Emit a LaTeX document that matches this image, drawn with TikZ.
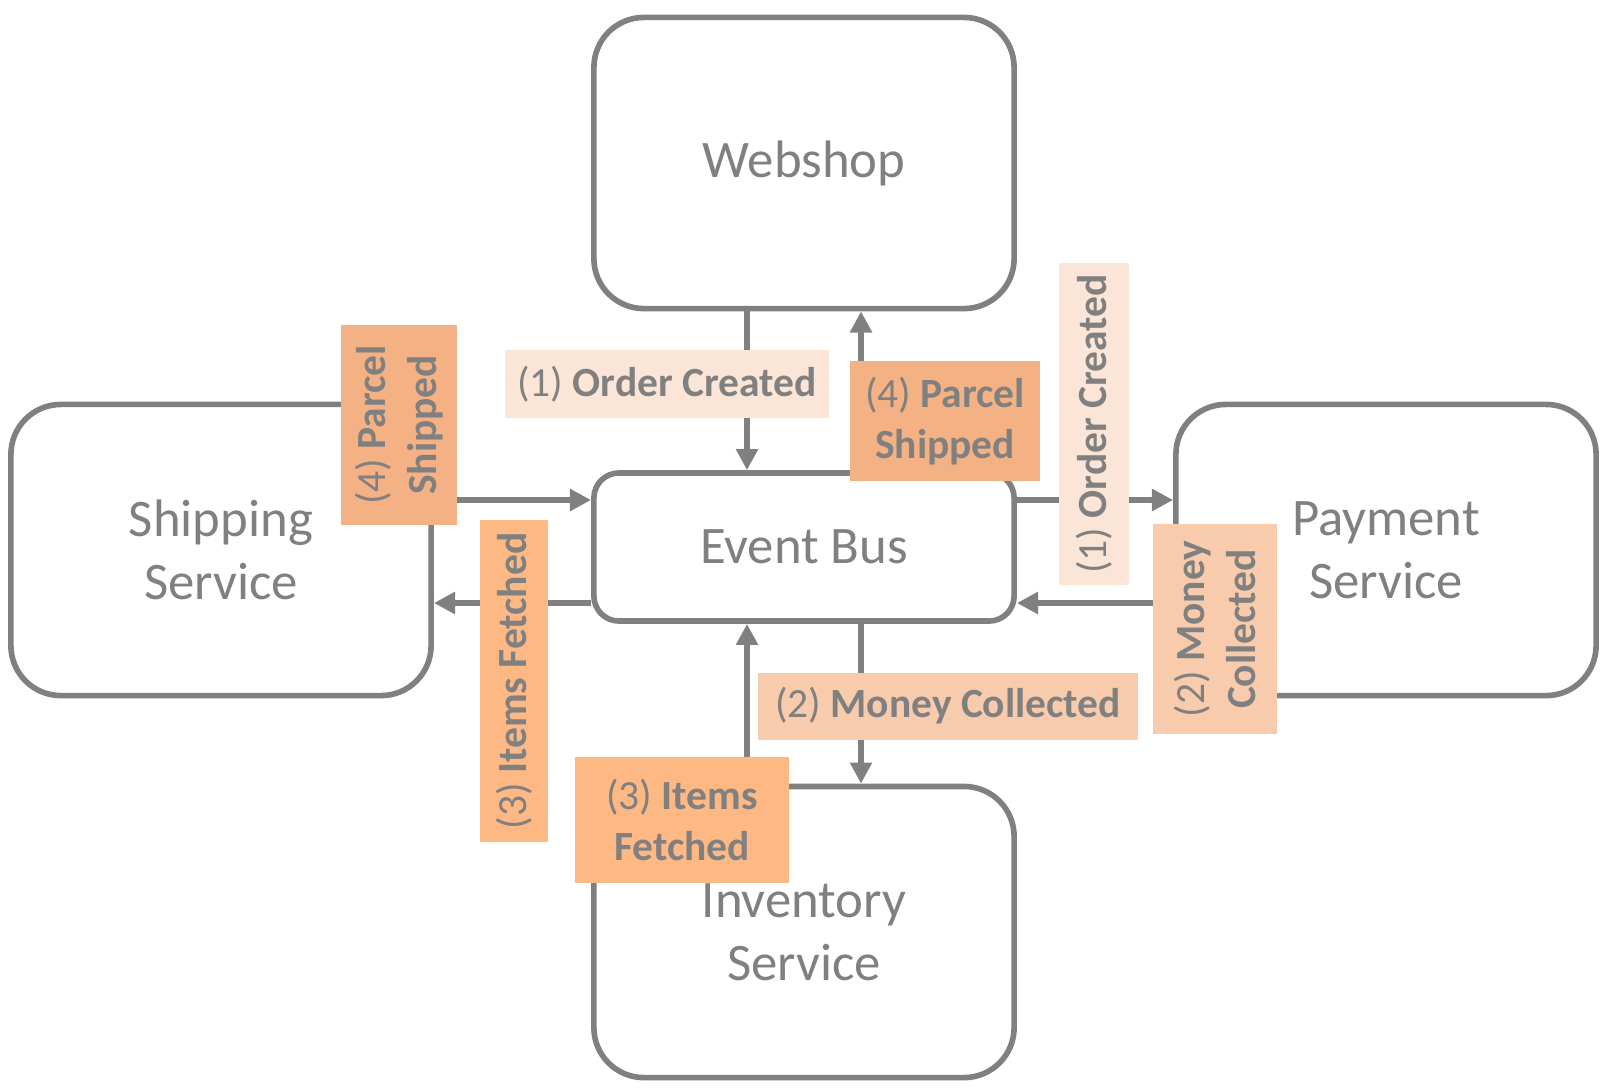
\documentclass[tikz,border=0pt]{standalone}
\usepackage{fontspec}
\setmainfont{Carlito}
\usetikzlibrary{arrows.meta}
\definecolor{gr}{HTML}{808080}
\definecolor{or1}{HTML}{FBE5D6}
\definecolor{or2}{HTML}{F8CBAD}
\definecolor{or3}{HTML}{FDB883}
\definecolor{or4}{HTML}{F4B183}

\begin{document}
\begin{tikzpicture}[x=0.01cm,y=-0.01cm,
  svc/.style={draw=gr,line width=1.6pt,rounded corners=0.5cm,minimum width=4.2cm,minimum height=2.91cm,
    text=gr,font=\fontsize{15}{18}\selectfont,align=center,fill=white},
  flow/.style={draw=gr,line width=1.6pt,-{Triangle[length=6pt,width=6pt]}},
  lbl/.style={text=gr,font=\fontsize{11.8}{14.5}\selectfont,align=center,inner sep=0pt}]
\useasboundingbox (0,0) rectangle (1606,1090);

\node[svc] (web) at (804,163) {Webshop};
\node[svc] (ship) at (221,550) {Shipping\\Service};
\node[svc] (pay) at (1386,550) {Payment\\Service};
\node[svc] (inv) at (804,932) {Inventory\\Service};
\node[svc,minimum height=1.48cm,rounded corners=0.25cm] (bus) at (804,547) {Event Bus};

\coordinate (xl) at (747,0);
\coordinate (xr) at (861,0);
\coordinate (yt) at (0,500);
\coordinate (yb) at (0,603);

\draw[flow] (xl |- web.south) -- (xl |- bus.north);
\draw[flow] (xr |- bus.north) -- (xr |- web.south);
\draw[flow] (ship.east |- yt) -- (bus.west |- yt);
\draw[flow] (bus.west |- yb) -- (ship.east |- yb);
\draw[flow] (bus.east |- yt) -- (pay.west |- yt);
\draw[flow] (pay.west |- yb) -- (bus.east |- yb);
\draw[flow] (xr |- bus.south) -- (xr |- inv.north);
\draw[flow] (xl |- inv.north) -- (xl |- bus.south);

\node[lbl,fill=or1,minimum width=3.23cm,minimum height=0.68cm] (ocH) at (667,384) {(1) \textbf{Order Created}};
\node[lbl,fill=or4,minimum width=1.89cm,minimum height=1.19cm] (psH) at (945,421) {(4) \textbf{Parcel}\\\textbf{Shipped}};
\node[lbl,fill=or2,minimum width=3.8cm,minimum height=0.67cm] (mcH) at (948,706) {(2) \textbf{Money Collected}};
\node[lbl,fill=or3,minimum width=2.13cm,minimum height=1.26cm] (ifH) at (682,820) {(3) \textbf{Items}\\\textbf{Fetched}};
\node[lbl,fill=or4,rotate=90,minimum width=1.99cm,minimum height=1.15cm] (psV) at (399,425) {(4) \textbf{Parcel}\\\textbf{Shipped}};
\node[lbl,fill=or3,rotate=90,minimum width=3.22cm,minimum height=0.67cm] (ifV) at (514,681) {(3) \textbf{Items Fetched}};
\node[lbl,fill=or1,rotate=90,minimum width=3.21cm,minimum height=0.69cm] (ocV) at (1094,424) {(1) \textbf{Order Created}};
\node[lbl,fill=or2,rotate=90,minimum width=2.1cm,minimum height=1.23cm] (mcV) at (1215,629) {(2) \textbf{Money}\\\textbf{Collected}};
\end{tikzpicture}
\end{document}
